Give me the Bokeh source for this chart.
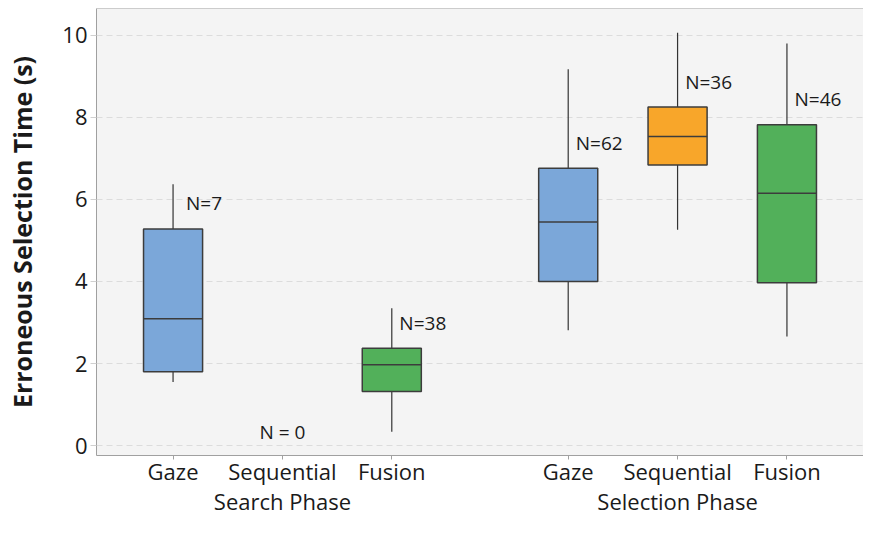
from bokeh.plotting import figure
from bokeh.models import (FactorRange, Range1d, ColumnDataSource, Span, FixedTicker,
                          CategoricalAxis)
from bokeh.transform import dodge
from bokeh.core.properties import value
from bokeh.embed import file_html
from bokeh.resources import INLINE

# ---- data ----
phases = ["Search Phase", "Selection Phase"]
methods = ["Gaze", "Sequential", "Fusion"]

box_phase = ["Search Phase", "Search Phase", "Selection Phase", "Selection Phase", "Selection Phase"]
box_method = ["Gaze", "Fusion", "Gaze", "Sequential", "Fusion"]
whisker_low = [1.55, 0.34, 2.81, 5.26, 2.66]
q1 = [1.80, 1.32, 4.00, 6.84, 3.97]
median = [3.09, 1.97, 5.45, 7.53, 6.15]
q3 = [5.28, 2.37, 6.76, 8.25, 7.82]
whisker_high = [6.37, 3.35, 9.17, 10.06, 9.80]
counts = [7, 38, 62, 36, 46]
box_colors = ["#7ba7d9", "#52b05a", "#7ba7d9", "#f8a62a", "#52b05a"]

empty_phase = "Search Phase"
empty_method = "Sequential"
empty_label = "N = 0"

y_ticks = [0, 2, 4, 6, 8, 10]
y_title = "Erroneous Selection Time (s)"

FONT = "Open Sans"
TEXT = "#1a1a1a"
AXIS = "#a0a0a0"
GROUP_PAD = 0.613
RANGE_PAD = 0.2

factors = [(ph, m) for ph in phases for m in methods]
x = list(zip(box_phase, box_method))

src = ColumnDataSource(dict(
    x=x, lo=whisker_low, q1=q1, med=median, q3=q3, hi=whisker_high,
    color=box_colors,
    label=[f"N={n}" for n in counts],
    label_y=[v + 0.62 for v in q3],
))

x_range = FactorRange(*factors, factor_padding=0.0, group_padding=GROUP_PAD,
                      range_padding=RANGE_PAD, range_padding_units="absolute")

# a flat range of the phase names whose centres coincide with the group centres
n = len(methods)
total = 2 * n + GROUP_PAD + 2 * RANGE_PAD
fpad = 1.0
glen = (1 + fpad) * total / (n + GROUP_PAD)
gpad = (RANGE_PAD + n / 2) * glen / total - 0.5
group_range = FactorRange(*phases, factor_padding=fpad,
                          range_padding=gpad, range_padding_units="absolute")

p = figure(x_range=x_range, y_range=Range1d(-0.24, 10.65),
           width=863, height=518, output_backend="svg", toolbar_location=None,
           min_border_left=96, min_border_right=0, min_border_top=8, min_border_bottom=53)
p.extra_x_ranges = {"groups": group_range}

p.background_fill_color = "#f4f4f4"
p.border_fill_color = "white"
p.outline_line_color = None

# whiskers
p.segment(x0="x", y0="lo", x1="x", y1="q1", source=src, line_color="#333333", line_width=1.2)
p.segment(x0="x", y0="q3", x1="x", y1="hi", source=src, line_color="#333333", line_width=1.2)
# boxes
p.vbar(x="x", width=0.54, bottom="q1", top="q3", source=src,
       fill_color="color", line_color="#3c3c3c", line_width=1.5)
# medians
p.segment(x0=dodge("x", -0.27, range=p.x_range), y0="med",
          x1=dodge("x", 0.27, range=p.x_range), y1="med",
          source=src, line_color="#3c3c3c", line_width=1.5)

# N labels
p.text(x="x", y="label_y", text="label", source=src, x_offset=31,
       text_align="center", text_baseline="middle",
       text_font=value(FONT), text_font_size="19px", text_color=TEXT)
p.text(x=[(empty_phase, empty_method)], y=[0], text=[empty_label], y_offset=-14,
       text_align="center", text_baseline="middle",
       text_font=value(FONT), text_font_size="19px", text_color=TEXT)

# top border
p.add_layout(Span(location=p.y_range.end, dimension="width", line_color=AXIS, line_width=1))

# grid
p.xgrid.grid_line_color = None
p.ygrid.grid_line_color = "#dcdcdc"
p.ygrid.grid_line_dash = "6 4"
p.ygrid.ticker = FixedTicker(ticks=y_ticks)

# y axis
p.yaxis.ticker = FixedTicker(ticks=y_ticks, minor_ticks=[])
p.yaxis.axis_label = y_title
p.yaxis.axis_label_text_font = FONT
p.yaxis.axis_label_text_font_size = "25px"
p.yaxis.axis_label_text_font_style = "bold"
p.yaxis.axis_label_text_color = TEXT
p.yaxis.axis_label_standoff = 20
p.yaxis.major_label_text_font = FONT
p.yaxis.major_label_text_font_size = "22px"
p.yaxis.major_label_text_color = TEXT
p.yaxis.major_label_standoff = 3
p.yaxis.major_tick_out = 6
p.yaxis.major_tick_in = 0
p.yaxis.major_tick_line_color = "#d0d0d0"
p.yaxis.minor_tick_line_color = None
p.yaxis.axis_line_color = AXIS

# x axis: method names
xax = p.xaxis[0]
xax.major_label_text_font = FONT
xax.major_label_text_font_size = "22px"
xax.major_label_text_color = TEXT
xax.major_label_standoff = -4
xax.group_text_font_size = "0px"
xax.group_text_color = None
xax.separator_line_color = None
xax.major_tick_out = 4
xax.major_tick_in = 0
xax.major_tick_line_color = AXIS
xax.axis_line_color = AXIS

# second axis: phase names
gax = CategoricalAxis(x_range_name="groups",
                      axis_line_color=None, major_tick_line_color=None,
                      major_tick_out=0, major_tick_in=0,
                      major_label_standoff=-3,
                      major_label_text_font=FONT, major_label_text_font_size="22px",
                      major_label_text_color=TEXT)
p.add_layout(gax, "below")

open("out.html", "w").write(file_html(p, INLINE))
